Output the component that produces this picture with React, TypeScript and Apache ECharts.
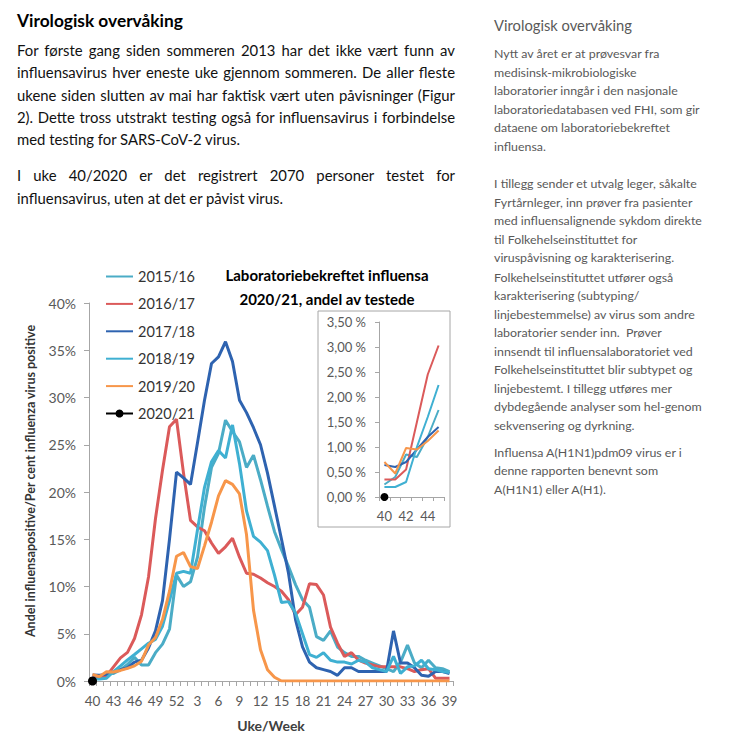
import React, { useEffect, useLayoutEffect, useRef } from "react";
import * as echarts from "echarts";

// ---------- chart data ----------
const weekLabels = [
  "40", "41", "42", "43", "44", "45", "46", "47", "48", "49", "50", "51", "52",
  "1", "2", "3", "4", "5", "6", "7", "8", "9", "10", "11", "12", "13", "14", "15",
  "16", "17", "18", "19", "20", "21", "22", "23", "24", "25", "26", "27", "28", "29",
  "30", "31", "32", "33", "34", "35", "36", "37", "38", "39",
];
const insetWeekLabels = ["40", "41", "42", "43", "44", "45"];

const seasons = ["2015/16", "2016/17", "2017/18", "2018/19", "2019/20", "2020/21"];
const seasonColors = ["#4BACC6", "#DB5A5A", "#2E63B0", "#3FB0D2", "#F7964A", "#000000"];

const v1516 = [
  0.25, 0.4, 0.85, 0.8, 1.2, 1.74, 2.5, 1.7, 1.7, 3.0, 3.9, 5.5,
  11.2, 10.0, 10.5, 13.1, 18.4, 22.6, 24.1, 27.6, 26.4, 25.3,
  22.6, 23.9, 21.3, 18.5, 15.8, 13.9, 12.1, 10.2, 8.6, 7.8,
  4.7, 4.3, 5.3, 3.6, 3.0, 2.6, 2.6, 2.2, 1.9, 1.6,
  1.3, 1.0, 2.0, 3.8, 1.9, 1.4, 2.2, 1.4, 1.3, 1.0,
];
const v1617 = [
  0.35, 0.35, 0.55, 1.5, 2.45, 3.03, 4.5, 7.0, 11.0, 17.2, 22.3, 26.9,
  27.7, 22.0, 17.0, 16.3, 15.9, 14.6, 13.5, 14.2, 15.1, 13.1,
  11.4, 11.3, 10.9, 10.4, 10.0, 9.5, 8.6, 7.0, 7.8, 10.3,
  10.2, 9.1, 5.7, 4.0, 2.6, 3.0, 2.2, 1.9, 1.7, 1.5,
  1.5, 1.5, 1.5, 1.3, 1.0, 1.2, 1.3, 0.3, 0.3, 0.3,
];
const v1718 = [
  0.64, 0.6, 0.7, 0.95, 1.2, 1.4, 2.0, 2.2, 3.5, 5.3, 8.5, 15.0,
  22.1, 21.5, 20.8, 25.2, 29.7, 33.6, 34.3, 35.9, 33.8, 29.7,
  28.4, 26.8, 25.0, 22.0, 18.5, 15.0, 11.4, 6.5, 3.6, 2.0,
  1.4, 1.2, 1.0, 0.6, 1.4, 1.4, 1.0, 1.0, 1.0, 1.0,
  1.0, 5.3, 1.9, 1.9, 1.4, 0.6, 0.5, 1.0, 1.0, 0.8,
];
const v1819 = [
  0.2, 0.2, 0.3, 1.0, 1.6, 2.24, 2.8, 3.4, 4.0, 4.4, 5.8, 8.5,
  11.4, 11.6, 11.4, 16.0, 20.5, 23.2, 24.4, 23.6, 27.1, 23.0,
  18.0, 15.3, 14.7, 13.8, 11.2, 8.3, 8.4, 7.2, 5.0, 2.8,
  2.5, 3.0, 2.2, 2.0, 2.0, 1.8, 2.2, 2.0, 1.4, 1.2,
  1.0, 2.6, 0.8, 1.5, 1.6, 2.2, 1.3, 1.2, 1.0, 0.9,
];
const v1920 = [
  0.7, 0.47, 0.98, 0.95, 1.12, 1.33, 1.6, 2.1, 3.8, 4.6, 6.5, 9.5,
  13.2, 13.6, 12.1, 11.9, 14.3, 16.8, 19.6, 21.2, 20.8, 19.8,
  15.5, 7.5, 3.3, 1.2, 0.4, 0, 0, 0, 0, 0,
  0, 0, 0, 0, 0, 0, 0, 0, 0, 0,
  0, 0, 0, 0, 0, 0, 0, 0, 0, 0,
];
const v2021 = [0];

const seriesValues = [v1516, v1617, v1718, v1819, v1920, v2021];
const markerSeason = "2020/21";

const mainYMax = 40;
const mainYStep = 5;
const insetYMax = 3.5;
const insetYStep = 0.5;

const chartTitle = "Laboratoriebekreftet influensa\n2020/21, andel av testede";
const xAxisName = "Uke/Week";
const yAxisName = "Andel influensapositive/Per cent influenza virus positive";

// ---------- document text ----------
const leftHeading = "Virologisk overvåking";
const leftPara1 = [
  "For første gang siden sommeren 2013 har det ikke vært funn av",
  "influensavirus hver eneste uke gjennom sommeren. De aller fleste",
  "ukene siden slutten av mai har faktisk vært uten påvisninger (Figur",
  "2). Dette tross utstrakt testing også for influensavirus i forbindelse",
  "med testing for SARS-CoV-2 virus.",
];
const leftPara2 = [
  "I uke 40/2020 er det registrert 2070 personer testet for",
  "influensavirus, uten at det er påvist virus.",
];
const sideHeading = "Virologisk overvåking";
const sidePara1 = [
  "Nytt av året er at prøvesvar fra",
  "medisinsk-mikrobiologiske",
  "laboratorier inngår i den nasjonale",
  "laboratoriedatabasen ved FHI, som gir",
  "dataene om laboratoriebekreftet",
  "influensa.",
];
const sidePara2 = [
  "I tillegg sender et utvalg leger, såkalte",
  "Fyrtårnleger, inn prøver fra pasienter",
  "med influensalignende sykdom direkte",
  "til Folkehelseinstituttet for",
  "viruspåvisning og karakterisering.",
];
const sidePara3 = [
  "Folkehelseinstituttet utfører også",
  "karakterisering (subtyping/",
  "linjebestemmelse) av virus som andre",
  "laboratorier sender inn.  Prøver",
  "innsendt til influensalaboratoriet ved",
  "Folkehelseinstituttet blir subtypet og",
  "linjebestemt. I tillegg utføres mer",
  "dybdegående analyser som hel-genom",
  "sekvensering og dyrkning.",
];
const sidePara4 = [
  "Influensa A(H1N1)pdm09 virus er i",
  "denne rapporten benevnt som",
  "A(H1N1) eller A(H1).",
];

const textTargets: Record<string, number> = { lh: 166, lp: 266, rh: 138, rp: 206 };

function layoutText(root: HTMLElement) {
  const spans = Array.from(root.querySelectorAll<HTMLSpanElement>("span[data-g]"));
  const groups: Record<string, HTMLSpanElement[]> = {};
  spans.forEach((s) => {
    const g = s.dataset.g as string;
    if (!groups[g]) groups[g] = [];
    groups[g].push(s);
    s.style.fontSize = "14px";
    s.style.wordSpacing = "0px";
    s.style.transform = "none";
  });
  Object.keys(groups).forEach((g) => {
    const list = groups[g];
    const ref = list.find((s) => s.dataset.ref === "1") || list[0];
    const w = ref.getBoundingClientRect().width;
    const size = w > 0 ? (14 * textTargets[g]) / w : 14;
    list.forEach((s) => (s.style.fontSize = size + "px"));
  });
  spans.forEach((s) => {
    const W = parseFloat(s.dataset.w as string);
    const w = s.getBoundingClientRect().width;
    const n = ((s.textContent || "").match(/ /g) || []).length;
    if (w > W) s.style.transform = `scaleX(${W / w})`;
    else if (s.dataset.j === "1" && n > 0) s.style.wordSpacing = `${(W - w) / n}px`;
  });
}

type TLineProps = {
  text: string; x: number; cy: number; w: number; g: string; j?: boolean;
  lh: number; color: string; weight?: string; isRef?: boolean;
};
function TLine({ text, x, cy, w, g, j, lh, color, weight, isRef }: TLineProps) {
  return (
    <div style={{ position: "absolute", left: x, top: cy - lh / 2, width: w, height: lh, lineHeight: lh + "px", whiteSpace: "nowrap" }}>
      <span
        data-g={g}
        data-w={w}
        data-j={j ? "1" : "0"}
        data-ref={isRef ? "1" : "0"}
        style={{ display: "inline-block", whiteSpace: "pre", transformOrigin: "0 50%", color, fontWeight: weight || "normal", fontFamily: "Lato" }}
      >
        {text}
      </span>
    </div>
  );
}

function buildOption() {
  const axisGray = "#A6A6A6";
  const labelGray = "#595959";
  const hasMarker = (name: string) => name === markerSeason;
  const mainSeries = seasons.map((name, k) => ({
    name,
    type: "line",
    xAxisIndex: 0,
    yAxisIndex: 0,
    data: seriesValues[k],
    symbol: hasMarker(name) ? "circle" : "none",
    symbolSize: 9,
    showSymbol: hasMarker(name),
    lineStyle: { width: 3, color: seasonColors[k] },
    itemStyle: { color: seasonColors[k] },
    z: 2 + k,
  }));
  const insetSeries = seasons.map((name, k) => ({
    name,
    type: "line",
    xAxisIndex: 1,
    yAxisIndex: 1,
    data: seriesValues[k].slice(0, insetWeekLabels.length),
    symbol: hasMarker(name) ? "circle" : "none",
    symbolSize: 8,
    showSymbol: hasMarker(name),
    lineStyle: { width: 2, color: seasonColors[k] },
    itemStyle: { color: seasonColors[k] },
    z: 12 + k,
  }));
  return {
    animation: false,
    textStyle: { fontFamily: "Lato" },
    color: seasonColors,
    title: {
      text: chartTitle,
      left: 322,
      top: 258,
      textAlign: "center",
      textStyle: { fontSize: 15, fontWeight: "bold", color: "#000", lineHeight: 24, fontFamily: "Lato" },
    },
    legend: {
      orient: "vertical",
      left: 100,
      top: 264,
      itemWidth: 27,
      itemHeight: 10,
      itemGap: 12.4,
      data: seasons.map((name) => (hasMarker(name) ? { name } : { name, itemStyle: { opacity: 0 } })),
      textStyle: { fontSize: 14.5, color: "#333", fontFamily: "Lato" },
    },
    grid: [
      { left: 89, top: 303, width: 364, height: 378 },
      { left: 379, top: 322, width: 65, height: 175 },
    ],
    xAxis: [
      {
        type: "category",
        gridIndex: 0,
        data: weekLabels,
        boundaryGap: true,
        axisLine: { lineStyle: { color: axisGray, width: 1 } },
        axisTick: { show: true, interval: 0, length: 5, lineStyle: { color: axisGray } },
        axisLabel: { interval: 2, fontSize: 13.5, color: labelGray, margin: 13 },
        name: xAxisName,
        nameLocation: "middle",
        nameGap: 37,
        nameTextStyle: { fontSize: 14, fontWeight: "bold", color: "#404040" },
      },
      {
        type: "category",
        gridIndex: 1,
        data: insetWeekLabels,
        boundaryGap: true,
        axisLine: { lineStyle: { color: axisGray, width: 1 } },
        axisTick: { show: true, interval: 0, length: 4, lineStyle: { color: axisGray } },
        axisLabel: { interval: 1, fontSize: 13, color: labelGray, margin: 12 },
        z: 5,
      },
    ],
    yAxis: [
      {
        type: "value",
        gridIndex: 0,
        min: 0,
        max: mainYMax,
        interval: mainYStep,
        axisLine: { show: true, lineStyle: { color: axisGray, width: 1 } },
        axisTick: { show: true, length: 5, lineStyle: { color: axisGray } },
        splitLine: { show: false },
        axisLabel: { formatter: "{value}%", fontSize: 14, color: labelGray, margin: 13 },
        name: yAxisName,
        nameLocation: "middle",
        nameRotate: 90,
        nameGap: 52,
        nameTextStyle: { fontSize: 12.5, fontWeight: "bold", color: "#333", padding: [0, 0, 0, 22] },
      },
      {
        type: "value",
        gridIndex: 1,
        min: 0,
        max: insetYMax,
        interval: insetYStep,
        axisLine: { show: true, lineStyle: { color: axisGray, width: 1 } },
        axisTick: { show: true, length: 4, lineStyle: { color: axisGray } },
        splitLine: { show: false },
        axisLabel: {
          formatter: (v: number) => v.toFixed(2).replace(".", ",") + " %",
          fontSize: 13,
          color: labelGray,
          margin: 13,
        },
        z: 5,
      },
    ],
    graphic: {
      elements: [
        {
          type: "rect",
          z: -1,
          shape: { x: 318, y: 311, width: 132, height: 216 },
          style: { fill: "#ffffff", stroke: "#A6A6A6", lineWidth: 1 },
        },
      ],
    },
    series: [...mainSeries, ...insetSeries],
  };
}

export default function App() {
  const chartRef = useRef<HTMLDivElement>(null);
  const textRef = useRef<HTMLDivElement>(null);

  useEffect(() => {
    const chart = echarts.init(chartRef.current as HTMLDivElement, null, { renderer: "svg" });
    chart.setOption(buildOption() as any);
    return () => chart.dispose();
  }, []);

  useLayoutEffect(() => {
    const run = () => {
      if (textRef.current) layoutText(textRef.current);
    };
    run();
    const fonts = (document as any).fonts;
    if (fonts && fonts.ready) fonts.ready.then(run);
  }, []);

  const lines: React.ReactElement[] = [];
  lines.push(<TLine key="lh" text={leftHeading} x={17} cy={21} w={300} g="lh" lh={22} color="#000" weight="bold" isRef />);
  leftPara1.forEach((t, k) =>
    lines.push(<TLine key={"l1" + k} text={t} x={17} cy={50 + 22.3 * k} w={438} g="lp" j={k < leftPara1.length - 1} lh={20} color="#111" />)
  );
  leftPara2.forEach((t, k) =>
    lines.push(
      <TLine key={"l2" + k} text={t} x={17} cy={175 + 22.5 * k} w={438} g="lp" j={k < leftPara2.length - 1} lh={20} color="#111" isRef={k === 1} />
    )
  );
  lines.push(<TLine key="rh" text={sideHeading} x={494} cy={25} w={240} g="rh" lh={20} color="#595959" isRef />);
  const side: [string[], number][] = [
    [sidePara1, 53.3],
    [sidePara2, 183.3],
    [sidePara3, 276.7],
    [sidePara4, 451.7],
  ];
  side.forEach(([para, start], p) =>
    para.forEach((t, k) =>
      lines.push(
        <TLine
          key={"s" + p + "_" + k}
          text={t}
          x={494}
          cy={start + 18.5 * k}
          w={240}
          g="rp"
          lh={18}
          color="#595959"
          isRef={t === "laboratoriedatabasen ved FHI, som gir"}
        />
      )
    )
  );

  return (
    <div style={{ position: "absolute", left: 0, top: 0, width: 754, height: 746, background: "#fff", overflow: "hidden" }}>
      <div ref={chartRef} style={{ position: "absolute", left: 0, top: 0, width: 754, height: 746 }} />
      <div ref={textRef} style={{ position: "absolute", left: 0, top: 0, width: 754, height: 746, pointerEvents: "none" }}>
        {lines}
      </div>
    </div>
  );
}
